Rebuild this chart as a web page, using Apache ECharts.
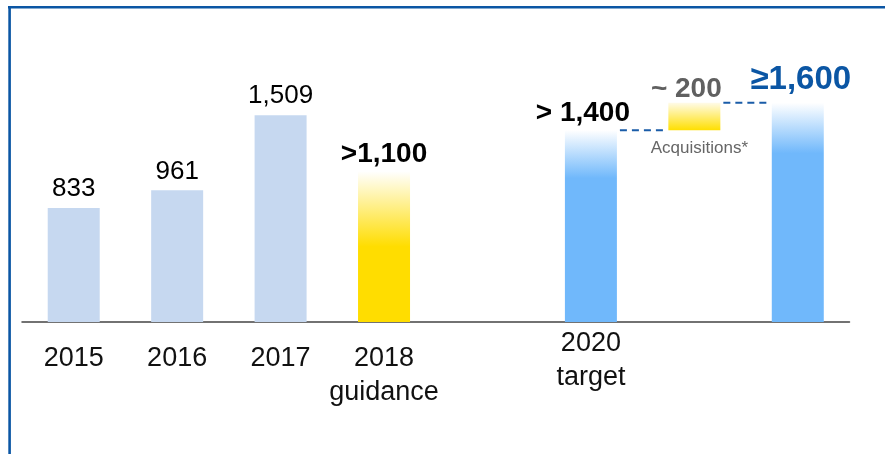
<!DOCTYPE html>
<html>
<head>
<meta charset="utf-8">
<style>
  html, body { margin: 0; padding: 0; background: #ffffff; }
  #chart { width: 885px; height: 454px; }
</style>
<script src="https://cdn.jsdelivr.net/npm/echarts@6/dist/echarts.min.js"></script>
</head>
<body>
<div id="chart"></div>
<script>
// Categories along the x axis (blank slots are the gap and the bridge columns)
const categories = ['2015', '2016', '2017', '2018\nguidance', '', '2020\ntarget', '', ''];

// Reported figures
const actualYears = [0, 1, 2];
const actualValues = [833, 961, 1509];
const actualLabels = ['833', '961', '1,509'];

// Outlook
const guidanceIndex = 3;
const guidanceValue = 1100;
const guidanceLabel = '>1,100';

const targetIndex = 5;
const targetValue = 1400;
const targetLabel = '> 1,400';

const acquisitionsIndex = 6;
const acquisitionsValue = 200;
const acquisitionsLabel = '~ 200';
const acquisitionsCaption = 'Acquisitions*';

const totalIndex = 7;
const totalValue = 1600;
const totalLabel = '\u22651,600';

const FONT = "'Liberation Sans', Arial, sans-serif";
const BAR_W = 52;

function column(pairs) {
  const arr = categories.map(() => null);
  pairs.forEach(([i, v]) => { arr[i] = v; });
  return arr;
}

function fade(color, solidAt, topColor) {
  return new echarts.graphic.LinearGradient(0, 0, 0, 1, [
    { offset: 0, color: topColor || '#ffffff' },
    { offset: solidAt, color: color },
    { offset: 1, color: color }
  ]);
}

const chart = echarts.init(document.getElementById('chart'), null, { renderer: 'canvas' });

const baseLabel = { show: true, position: 'top', fontFamily: FONT };

chart.setOption({
  animation: false,
  backgroundColor: '#ffffff',
  grid: { left: 22, right: 35.5, top: 48, bottom: 132, containLabel: false },
  xAxis: {
    type: 'category',
    data: categories.map((c, i) => i === targetIndex
      ? { value: c, textStyle: { padding: [0, 0, 0, 0] } }
      : { value: c, textStyle: { padding: [15, 0, 0, 0] } }),
    axisTick: { show: false },
    axisLine: { lineStyle: { color: '#444444', width: 1.5 } },
    axisLabel: {
      interval: 0,
      margin: 5,
      color: '#111111',
      fontFamily: FONT,
      fontSize: 27,
      lineHeight: 34
    }
  },
  yAxis: {
    type: 'value',
    min: 0,
    max: 2000,
    show: false,
    splitLine: { show: false }
  },
  graphic: [
    { type: 'line', shape: { x1: 8, y1: 7.3, x2: 885, y2: 7.3 }, style: { stroke: '#0b56a4', lineWidth: 2.6 }, silent: true },
    { type: 'line', shape: { x1: 9.6, y1: 6, x2: 9.6, y2: 454 }, style: { stroke: '#0b56a4', lineWidth: 2.6 }, silent: true }
  ],
  series: [
    {
      name: 'Reported',
      type: 'bar',
      stack: 'all',
      barWidth: BAR_W,
      data: column(actualYears.map((i, k) => [i, actualValues[k]])),
      itemStyle: { color: '#c6d8f0' },
      label: Object.assign({}, baseLabel, {
        distance: 6,
        color: '#000000',
        fontSize: 26,
        formatter: (p) => actualLabels[actualYears.indexOf(p.dataIndex)]
      })
    },
    {
      name: '2018 guidance',
      type: 'bar',
      stack: 'all',
      barWidth: BAR_W,
      data: column([[guidanceIndex, guidanceValue]]),
      itemStyle: { color: fade('#ffdd00', 0.5) },
      label: Object.assign({}, baseLabel, {
        distance: 3,
        color: '#000000',
        fontSize: 28,
        fontWeight: 'bold',
        formatter: guidanceLabel
      })
    },
    {
      name: '2020 target',
      type: 'bar',
      stack: 'all',
      barWidth: BAR_W,
      data: column([[targetIndex, targetValue]]),
      itemStyle: { color: fade('#70b8fb', 0.25) },
      label: Object.assign({}, baseLabel, {
        distance: 3,
        color: '#000000',
        fontSize: 28,
        fontWeight: 'bold',
        offset: [-8, 0],
        formatter: targetLabel
      })
    },
    {
      // invisible base that lifts the acquisitions step up to the 2020 target level
      name: 'Step base',
      type: 'bar',
      stack: 'all',
      barWidth: BAR_W,
      data: column([[acquisitionsIndex, targetValue]]),
      itemStyle: { color: 'rgba(0,0,0,0)' },
      label: { show: false },
      silent: true
    },
    {
      name: 'Acquisitions',
      type: 'bar',
      stack: 'all',
      barWidth: BAR_W,
      data: column([[acquisitionsIndex, acquisitionsValue]]),
      itemStyle: { color: fade('#ffdf00', 1, '#fffbe8') },
      label: Object.assign({}, baseLabel, {
        distance: 0,
        color: '#606060',
        fontSize: 28,
        fontWeight: 'bold',
        offset: [-8, 0],
        formatter: acquisitionsLabel
      })
    },
    {
      name: 'Total',
      type: 'bar',
      stack: 'all',
      barWidth: BAR_W,
      data: column([[totalIndex, totalValue]]),
      itemStyle: { color: fade('#70b8fb', 0.23) },
      label: Object.assign({}, baseLabel, {
        distance: 6,
        color: '#0b56a4',
        fontSize: 33,
        fontWeight: 'bold',
        offset: [3, 0],
        formatter: totalLabel
      })
    },
    {
      // dashed bridges between neighbouring bar tops, plus the caption under the acquisitions step
      name: 'Bridges',
      type: 'custom',
      data: [
        [targetIndex, acquisitionsIndex, targetValue],
        [acquisitionsIndex, totalIndex, targetValue + acquisitionsValue]
      ],
      renderItem: (params, api) => {
        const from = api.value(0);
        const to = api.value(1);
        const level = api.value(2);
        const p1 = api.coord([from, level]);
        const p2 = api.coord([to, level]);
        const children = [{
          type: 'line',
          shape: { x1: p1[0] + BAR_W / 2 + 3, y1: p1[1], x2: p2[0] - BAR_W / 2 - 3, y2: p2[1] },
          style: { stroke: '#1a5ca8', lineWidth: 2, lineDash: [7, 5] }
        }];
        if (params.dataIndex === 0) {
          children.push({
            type: 'text',
            x: p2[0] + 5,
            y: p2[1] + 10,
            style: {
              text: acquisitionsCaption,
              fill: '#666666',
              fontFamily: FONT,
              fontSize: 17,
              align: 'center',
              verticalAlign: 'top'
            }
          });
        }
        return { type: 'group', children: children };
      },
      z: 5
    }
  ]
});
</script>
</body>
</html>
